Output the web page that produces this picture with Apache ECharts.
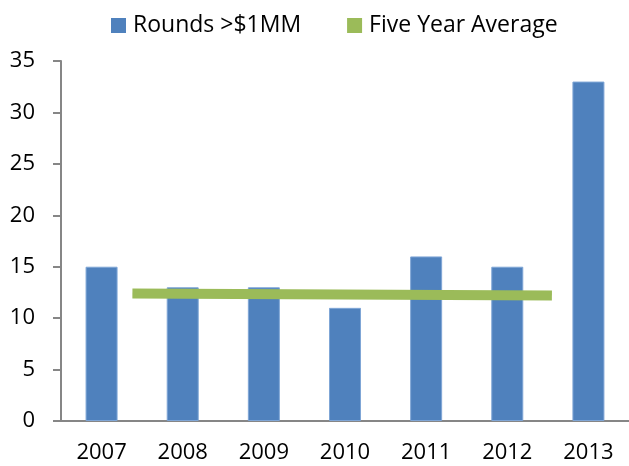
<!DOCTYPE html>
<html lang="en">
  <head>
    <meta charset="utf-8" />
  </head>
  <body style="margin: 0">
    <div id="container" style="width: 629px; height: 466px"></div>
    <script
      type="text/javascript"
      src="https://fastly.jsdelivr.net/npm/echarts@6/dist/echarts.min.js"
    ></script>
    <script type="text/javascript">
      var years = ["2007", "2008", "2009", "2010", "2011", "2012", "2013"];
      var rounds = [15, 13, 13, 11, 16, 15, 33];
      // average line endpoints: [category position, value]
      var avgStart = [0.38, 12.4];
      var avgEnd = [5.55, 12.2];
      var yTicks = [0, 5, 10, 15, 20, 25, 30, 35];

      var font = "Open Sans";
      var gray = "#868686";
      var myChart = echarts.init(document.getElementById("container"), null, {
        renderer: "canvas",
      });

      var option = {
        animation: false,
        textStyle: { fontFamily: font },
        legend: {
          top: 9,
          left: 106,
          itemWidth: 15,
          itemHeight: 15,
          itemGap: 46,
          itemStyle: { borderWidth: 0 },
          textStyle: { fontFamily: font, fontSize: 23, color: "#000", padding: [0, 0, 0, 2] },
          data: [
            { name: "Rounds >$1MM", icon: "rect" },
            { name: "Five Year Average", icon: "rect" },
          ],
        },
        grid: { left: 61, right: 0, top: 61, bottom: 45 },
        xAxis: [
          {
            type: "category",
            data: years,
            axisLine: { lineStyle: { color: gray, width: 2 } },
            axisTick: { length: 8, lineStyle: { color: gray, width: 2 } },
            axisLabel: { fontSize: 22, color: "#000", margin: 21 },
          },
          {
            type: "value",
            min: -0.5,
            max: 6.5,
            show: false,
          },
        ],
        yAxis: {
          type: "value",
          min: yTicks[0],
          max: yTicks[yTicks.length - 1],
          interval: 5,
          axisLine: { show: true, onZero: false, lineStyle: { color: gray, width: 2 } },
          axisTick: { show: true, length: 8, lineStyle: { color: gray, width: 2 } },
          splitLine: { show: false },
          axisLabel: { fontSize: 22, color: "#000", margin: 26 },
        },
        series: [
          {
            name: "Rounds >$1MM",
            type: "bar",
            data: rounds,
            barWidth: 32,
            itemStyle: { color: "#4F81BD", borderColor: "#7fa6d6", borderWidth: 1 },
          },
          {
            name: "Five Year Average",
            type: "line",
            xAxisIndex: 1,
            data: [avgStart, avgEnd],
            symbol: "none",
            itemStyle: { color: "#9BBB59" },
            lineStyle: { color: "#9BBB59", width: 10, cap: "butt" },
          },
        ],
      };

      myChart.setOption(option);
    </script>
  </body>
</html>
